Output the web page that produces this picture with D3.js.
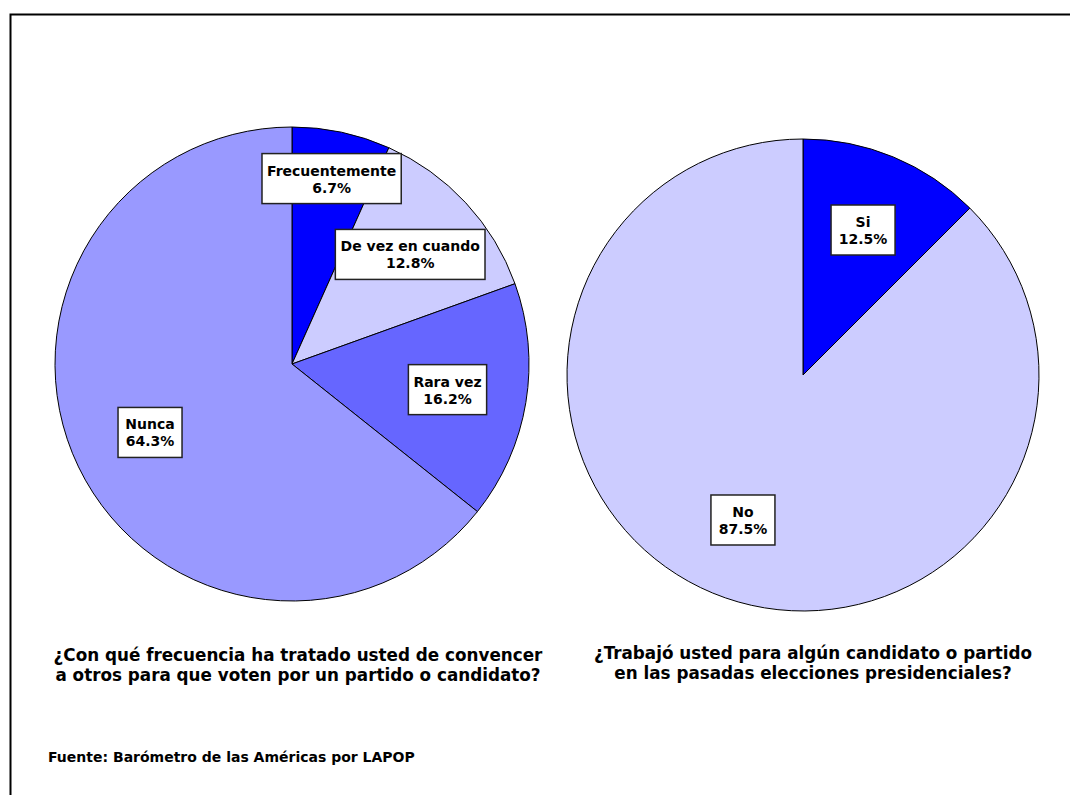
<!DOCTYPE html>
<html><head><meta charset="utf-8">
<script src="https://cdn.jsdelivr.net/npm/d3@7"></script>
<style>
html,body{margin:0;padding:0;background:#fff;}
svg{display:block;}
text{font-family:"DejaVu Sans",Verdana,sans-serif;font-weight:bold;fill:#000;}
</style></head>
<body>
<script>
// ---- data ----
const freqCategories = ["Frecuentemente", "De vez en cuando", "Rara vez", "Nunca"];
const freqValues = [6.7, 12.8, 16.2, 64.3];
const freqColors = ["#0000FF", "#CCCCFF", "#6666FF", "#9999FF"];

const workCategories = ["Si", "No"];
const workValues = [12.5, 87.5];
const workColors = ["#0000FF", "#CCCCFF"];

const leftTitle = ["¿Con qué frecuencia ha tratado usted de convencer", "a otros para que voten por un partido o candidato?"];
const rightTitle = ["¿Trabajó usted para algún candidato o partido", "en las pasadas elecciones presidenciales?"];
const sourceNote = "Fuente: Barómetro de las Américas por LAPOP";

// ---- drawing ----
const W = 1070, H = 795;
const svg = d3.select("body").append("svg").attr("width", W).attr("height", H);

// frame (extends past the viewport on the right and bottom)
svg.append("rect").attr("x", 10.5).attr("y", 14.5).attr("width", 1200).attr("height", 900)
  .attr("fill", "none").attr("stroke", "#000").attr("stroke-width", 2);

function drawPie(cx, cy, r, cats, vals, cols, labelFactors, title, titleCx, titleY) {
  const g = svg.append("g").attr("transform", `translate(${cx},${cy})`);
  const pie = d3.pie().sort(null).value(d => d.v);
  const arcs = pie(cats.map((c, i) => ({c, v: vals[i], col: cols[i], i})));
  const arc = d3.arc().innerRadius(0).outerRadius(r);
  g.selectAll("path.slice").data(arcs).join("path")
    .attr("class", "slice")
    .attr("d", arc)
    .attr("fill", d => d.data.col)
    .attr("stroke", "#000").attr("stroke-width", 1).attr("stroke-linejoin", "round");

  arcs.forEach((d, i) => {
    const lr = r * labelFactors[i];
    const la = d3.arc().innerRadius(lr).outerRadius(lr);
    const [lx, ly] = la.centroid(d);
    const lg = g.append("g").attr("transform", `translate(${lx},${ly})`);
    const rect = lg.append("rect");
    const t = lg.append("text").attr("text-anchor", "middle").style("font-size", "14px");
    t.append("tspan").attr("x", 0).attr("y", -3).text(d.data.c);
    t.append("tspan").attr("x", 0).attr("y", 14).text(d3.format(".1f")(d.data.v) + "%");
    const tw = t.node().getBBox().width;
    const bw = Math.max(tw + 10, 64), bh = 50;
    rect.attr("x", -bw / 2).attr("y", -bh / 2).attr("width", bw).attr("height", bh)
      .attr("fill", "#fff").attr("stroke", "#222").attr("stroke-width", 1.5);
  });

  title.forEach((line, i) => {
    svg.append("text").attr("text-anchor", "middle").style("font-size", "16.8px")
      .attr("x", titleCx).attr("y", titleY + i * 19.5).text(line);
  });
}

drawPie(292, 364, 237, freqCategories, freqValues, freqColors, [0.80, 0.68, 0.665, 0.665], leftTitle, 298, 661);
drawPie(803, 375, 236, workCategories, workValues, workColors, [0.665, 0.665], rightTitle, 813, 659);

svg.append("text").attr("x", 48).attr("y", 762).style("font-size", "14px").text(sourceNote);
</script>
</body></html>
